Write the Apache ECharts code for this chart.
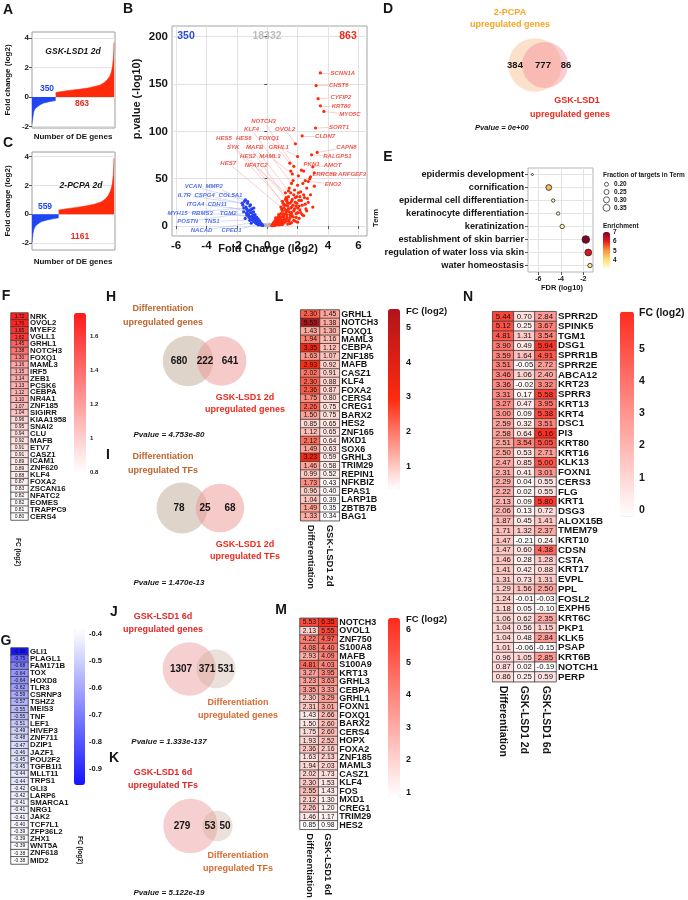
<!DOCTYPE html>
<html><head><meta charset="utf-8">
<script src="https://cdn.jsdelivr.net/npm/echarts@6/dist/echarts.min.js"></script>
<style>html,body{margin:0;padding:0;background:#fff}#c{width:688px;height:900px}</style>
</head><body><div id="c"></div>
<script>
const FONT = '"Liberation Sans", Arial, Helvetica, sans-serif';

// ================= DATA =================
// A / C : ranked fold changes of DE genes (rank, log2 FC)
const aDown = [[0,-1.8],[5,-1.6],[12,-1.4],[25,-1.0],[45,-0.8],[75,-0.68],[120,-0.52],[172,-0.41],[270,-0.3],[350,-0.24]];
const aUp = [[350,0.3],[420,0.36],[550,0.45],[700,0.52],[850,0.63],[1000,0.8],[1060,0.95],[1110,1.15],[1150,1.4],[1175,1.7],[1192,2.1],[1203,2.6],[1210,3.1],[1213,3.7]];
const cDown = [[0,-2.0],[8,-1.7],[20,-1.35],[40,-1.05],[70,-0.85],[120,-0.68],[200,-0.52],[300,-0.42],[430,-0.33],[559,-0.26]];
const cUp = [[559,0.28],[700,0.36],[900,0.45],[1100,0.55],[1300,0.68],[1450,0.85],[1540,1.05],[1600,1.3],[1650,1.65],[1685,2.1],[1705,2.7],[1715,3.3],[1720,3.9]];
const aCounts = [350, 863];
const cCounts = [559, 1161];
const waterfallTicks = [-2, 0, 2, 4];

// B : volcano (log2 FC, -log10 p)
const volcanoCounts = [350, 18332, 863];
const volcanoUp = [[0.3,0.5],[0.35,1.5],[0.4,3],[0.45,0.8],[0.5,2.2],[0.5,5],[0.55,3.5],[0.6,1.2],[0.6,7],[0.65,4.5],[0.7,2.5],[0.7,9],[0.75,6],[0.8,3.8],[0.8,11],[0.85,8],[0.9,1.5],[0.9,13],[0.95,5.5],[1.0,10],[1.0,16],[1.05,3],[1.1,7.5],[1.1,19],[1.15,12.5],[1.2,4.8],[1.2,22],[1.25,15],[1.3,9],[1.3,26],[1.35,2],[1.4,18],[1.4,31],[1.45,6.5],[1.5,12],[1.5,24],[1.55,35],[1.6,3.5],[1.6,20],[1.65,28],[1.7,9.5],[1.75,16],[1.8,38],[1.85,5],[1.85,25],[1.9,13],[1.95,31],[2.0,19],[2.0,43],[2.1,8],[2.1,27],[2.2,14],[2.2,36],[2.3,22],[2.35,45],[2.4,11],[2.45,30],[2.55,18],[2.6,40],[2.7,25],[2.8,50],[2.85,33],[3.0,20],[3.1,42],[1.2,28],[1.45,40],[1.7,48],[1.55,58],[2.05,53],[2.25,59],[2.5,48],[1.75,33],[0.95,18],[1.05,24],[0.55,8.5],[0.75,12],[0.65,2],[1.35,21],[1.6,14],[1.9,21],[2.15,31],[1.3,16],
  [0.4,1.8],[0.45,4],[0.55,6],[0.6,3],[0.7,5],[0.75,1],[0.8,7.5],[0.85,2.5],[0.9,9.5],[0.95,3.5],[1.0,6],[1.05,13],[1.1,10],[1.15,4],[1.2,17],[1.25,7],[1.3,12],[1.35,24],[1.4,5],[1.45,15],[1.5,9],[1.55,19],[1.6,26],[1.65,11],[1.7,22],[1.75,6],[1.8,18],[1.85,30],[1.9,9],[1.95,24],[2.0,14],[2.05,35],[2.1,21],[2.15,17],[2.25,27],[2.3,12],[2.4,33],[2.5,23],[2.6,16],[2.65,29],[0.35,0.3],[0.5,0.5],[1.0,1.5],[1.5,2.5],[2.0,4]];
const volcanoDown = [[-0.3,0.5],[-0.35,2],[-0.4,1],[-0.45,3.5],[-0.5,1.8],[-0.5,5.5],[-0.55,3],[-0.6,7.5],[-0.6,1.2],[-0.65,4.5],[-0.7,9.5],[-0.7,2.5],[-0.75,6.5],[-0.8,12],[-0.8,3.8],[-0.85,8.5],[-0.9,15],[-0.9,5],[-0.95,11],[-1.0,18],[-1.0,7],[-1.05,3],[-1.1,14],[-1.15,21],[-1.2,9],[-1.25,16],[-1.3,24],[-1.35,11.5],[-1.4,20],[-1.5,26],[-1.55,15],[-1.6,22],[-1.45,8],
  [-0.35,0.8],[-0.45,2.5],[-0.55,4.5],[-0.65,6],[-0.75,3.2],[-0.85,5.5],[-0.95,8],[-1.05,10],[-1.15,6],[-1.25,12.5],[-1.35,18],[-1.1,17],[-0.9,11],[-0.7,7.5],[-0.6,3.5]];
const volcanoNS = [[-0.25,0.3],[-0.15,0.8],[-0.1,0.2],[0,0.5],[0.05,0.1],[0.1,0.9],[0.2,0.3],[0.25,1.2],[-0.2,1.5],[0.15,2],[-0.05,1.2],[0.1,0.2]];
const volcanoUpLabeled = [['SCNN1A',3.5,161.7],['CHST6',3.22,148.3],['CYFIP2',3.35,134.5],['KRT80',3.5,127],['MYO5C',3.73,121],['SORT1',3.18,103.5],['CLDN7',2.3,95.3],['CAPN8',3.29,77.7],['RALGPS1',2.92,75.2],['AMOT',3.0,62.5],['PKN1',2.4,58],['LRRC8B',2.85,52],['ARFGEF3',3.1,56],['ENO2',2.7,47],['NOTCH3',1.75,63],['KLF4',1.6,45],['OVOL2',1.86,86.9],['HES5',1.2,35],['HES6',1.3,28],['FOXQ1',1.49,66.4],['SYK',1.0,26],['MAFB',1.4,37],['GRHL1',2.0,73.4],['HES2',1.1,22],['MAML3',1.65,55],['HES7',0.9,20],['NFATC2',1.25,30]];
const volcanoDownLabeled = [['VCAN',-1.43,27.5],['MMP2',-1.28,25.8],['IL7R',-1.65,24],['CSPG4',-1.1,22.4],['COL5A1',-0.88,19],['ITGA4',-1.32,17.2],['CDH11',-0.99,13.8],['MYH15',-1.54,19],['RBMS3',-1.21,10.4],['TGM2',-0.77,8.7],['POSTN',-1.36,13.8],['TNS1',-1.1,6.4],['NACAD',-0.66,4.2],['CPED1',-0.55,1.4]];
const volcanoXTicks = [-6,-4,-2,0,2,4,6];
const volcanoYTicks = [0,50,100,150,200];

// D : venn 2-PCPA vs GSK-LSD1
const vennD = [384, 777, 86];
const pvalD = '0e+00';

// E : GO terms
const goTerms = ['epidermis development','cornification','epidermal cell differentiation','keratinocyte differentiation','keratinization','establishment of skin barrier','regulation of water loss via skin','water homeostasis'];
const goFDR = [-6.53,-5.07,-4.68,-4.24,-3.88,-1.78,-1.56,-1.41];
const goFraction = [0.10,0.29,0.17,0.17,0.22,0.38,0.34,0.22];
const goEnrichment = [2.9,4.5,3.3,3.2,3.5,7.0,6.2,3.8];
const goXTicks = [-6,-4,-2];
const goSizeBreaks = [0.20,0.25,0.30,0.35];
const goEnrichTicks = [4,5,6,7];

// F : upregulated TFs
const fGenes = ['NRK','OVOL2','MYEF2','VGLL1','GRHL1','NOTCH3','FOXQ1','MAML3','IRF5','ZEB1','PCSK6','CEBPA','NR4A1','ZNF185','SIGIRR','KIAA1958','SNAI2','CLU','MAFB','ETV7','CASZ1','ICAM1','ZNF620','KLF4','FOXA2','ZSCAN16','NFATC2','EOMES','TRAPPC9','CERS4'];
const fFC = [1.72,1.70,1.65,1.62,1.45,1.38,1.30,1.16,1.15,1.14,1.13,1.12,1.10,1.07,1.04,0.96,0.95,0.94,0.92,0.91,0.91,0.89,0.89,0.88,0.87,0.83,0.82,0.82,0.81,0.80];
const fTicks = [0.8,1,1.2,1.4,1.6];

// G : downregulated TFs
const gGenes = ['GLI1','PLAGL1','FAM171B','TOX','HOXD8','TLR3','CSRNP3','TSHZ2','MEIS3','TNF','LEF1','HIVEP3','ZNF711','DZIP1','JAZF1','POU2F2','TGFB1I1','MLLT11','TRPS1','GLI3','LARP6','SMARCA1','NRG1','JAK2','TCF7L1','ZFP36L2','ZHX1','WNT5A','ZNF618','MID2'];
const gFC = [-0.96,-0.75,-0.68,-0.64,-0.64,-0.62,-0.59,-0.57,-0.55,-0.55,-0.51,-0.49,-0.48,-0.47,-0.46,-0.45,-0.45,-0.44,-0.44,-0.42,-0.42,-0.41,-0.41,-0.41,-0.40,-0.39,-0.39,-0.39,-0.38,-0.38];
const gTicks = [-0.9,-0.8,-0.7,-0.6,-0.5,-0.4];

// H - K : venns
const vennH = [680, 222, 641]; const pvalH = '4.753e-80';
const vennI = [78, 25, 68];    const pvalI = '1.470e-13';
const vennJ = [1307, 371, 531]; const pvalJ = '1.333e-137';
const vennK = [279, 53, 50];   const pvalK = '5.122e-19';

// L
const lGenes = ['GRHL1','NOTCH3','FOXQ1','MAML3','CEBPA','ZNF185','MAFB','CASZ1','KLF4','FOXA2','CERS4','CREG1','BARX2','HES2','ZNF165','MXD1','SOX6','GRHL3','TRIM29','REPIN1','NFKBIZ','EPAS1','LARP1B','ZBTB7B','BAG1'];
const lDiff = [2.30,5.53,1.43,1.94,3.35,1.63,2.93,2.02,2.30,2.36,1.75,2.26,1.50,0.85,1.12,2.12,1.49,3.23,1.46,0.99,1.73,0.96,1.04,1.49,1.33];
const lGsk2d = [1.45,1.38,1.30,1.16,1.12,1.07,0.92,0.91,0.88,0.87,0.80,0.75,0.75,0.65,0.65,0.64,0.63,0.59,0.58,0.52,0.43,0.40,0.39,0.35,0.34];
const lTicks = [1,2,3,4,5];

// M
const mGenes = ['NOTCH3','OVOL1','ZNF750','S100A8','MAFB','S100A9','KRT13','GRHL3','CEBPA','GRHL1','FOXN1','FOXQ1','BARX2','CERS4','HOPX','FOXA2','ZNF185','MAML3','CASZ1','KLF4','FOS','MXD1','CREG1','TRIM29','HES2'];
const mDiff = [5.53,2.13,4.22,4.08,2.93,4.81,3.27,3.23,3.35,2.30,2.31,1.43,1.50,1.75,1.93,2.36,1.63,1.94,2.02,2.30,2.55,2.12,2.26,1.46,0.85];
const mGsk6d = [6.35,5.55,4.97,4.40,4.09,4.03,3.95,3.63,3.33,3.29,3.01,2.66,2.60,2.60,2.52,2.16,2.13,2.03,1.73,1.53,1.43,1.30,1.20,1.17,0.98];
const mTicks = [1,2,3,4,5,6];

// N
const nGenes = ['SPRR2D','SPINK5','TGM1','DSG1','SPRR1B','SPRR2E','ABCA12','KRT23','SPRR3','KRT13','KRT4','DSC1','PI3','KRT80','KRT16','KLK13','FOXN1','CERS3','FLG','KRT1','DSG3','ALOX15B','TMEM79','KRT10','CDSN','CSTA','KRT17','EVPL','PPL','FOSL2','EXPH5','KRT6C','PKP1','KLK5','PSAP','KRT6B','NOTCH1','PERP'];
const nDiff = [5.44,5.12,4.81,3.90,3.59,3.51,3.46,3.36,3.31,3.27,3.00,2.59,2.58,2.51,2.50,2.47,2.31,2.29,2.22,2.13,2.06,1.87,1.71,1.47,1.47,1.46,1.41,1.31,1.29,1.24,1.18,1.06,1.04,1.04,1.01,0.96,0.87,0.86];
const nGsk2d = [0.70,0.25,1.31,0.49,1.64,-0.05,1.06,-0.02,0.17,0.47,0.09,0.32,0.64,3.54,0.53,0.85,0.41,0.04,0.02,0.09,0.13,0.45,1.32,-0.21,0.60,0.28,0.42,0.73,1.56,-0.01,0.05,0.62,0.56,0.48,-0.06,1.05,0.02,0.25];
const nGsk6d = [2.84,3.67,3.54,5.94,4.91,2.72,2.40,3.32,5.58,3.95,5.38,3.51,6.16,5.05,2.71,5.00,3.01,0.55,0.55,5.80,0.72,1.41,2.37,0.24,4.38,1.28,0.88,1.31,2.50,-0.03,-0.10,2.35,1.15,2.84,-0.15,2.85,-0.19,0.59];
const nTicks = [0,1,2,3,4,5];

// ================= LAYOUT (positions / styles only) =================
const volcanoLabelPos = {SCNN1A:[4.98,161.7],CHST6:[4.71,148.3],CYFIP2:[4.85,135.9],KRT80:[4.87,126.4],MYO5C:[5.44,117.7],SORT1:[4.73,104.5],CLDN7:[3.81,94.7],CAPN8:[5.22,83.1],RALGPS1:[4.62,73.5],AMOT:[4.3,64],PKN1:[2.92,64.7],LRRC8B:[3.79,54.7],ARFGEF3:[5.59,54.7],ENO2:[4.32,44.5],NOTCH3:[-0.24,110.5],KLF4:[-1.03,101.7],OVOL2:[1.18,101.7],HES5:[-2.85,92.2],HES6:[-1.54,92.2],FOXQ1:[0.11,92.2],SYK:[-2.24,83.1],MAFB:[-0.82,83.1],GRHL1:[0.76,83.1],HES2:[-1.27,73.5],MAML3:[0.17,73.5],HES7:[-2.57,66.5],NFATC2:[-0.73,64],
  VCAN:[-4.87,41.7],MMP2:[-3.49,41.7],IL7R:[-5.46,32.2],CSPG4:[-4.12,32.2],COL5A1:[-2.41,32.2],ITGA4:[-4.72,23],CDH11:[-3.29,23],MYH15:[-5.9,13.5],RBMS3:[-4.28,13.5],TGM2:[-2.57,13.5],POSTN:[-5.24,4.7],TNS1:[-3.64,4.7],NACAD:[-4.32,-4.8],CPED1:[-2.35,-4.8]};
const RED = '#ee2a1e', BLUE = '#2046f0', TXT = '#151515';

const chart = echarts.init(document.getElementById('c'), null, {renderer:'canvas', width:688, height:900});
const opt = {animation:false, backgroundColor:'#ffffff', textStyle:{fontFamily:FONT}, grid:[], xAxis:[], yAxis:[], series:[], visualMap:[], graphic:{elements:[]}};
const GE = opt.graphic.elements;

function txt(x, y, text, o) {
  o = o || {};
  const al = o.align || 'center', va = o.valign || 'middle';
  GE.push({type:'text', x:x, y:y, rotation:o.rot || 0, z:100, silent:true,
    style:{text:text, fill:o.color || TXT, font:(o.italic ? 'italic ' : '') + (o.weight || 'bold') + ' ' + (o.size || 10) + 'px ' + FONT,
      textAlign:al, textVerticalAlign:va, align:al, verticalAlign:va}});
}
function circ(cx, cy, r, fill, stroke) {
  GE.push({type:'circle', z:10, silent:true, shape:{cx:cx, cy:cy, r:r}, style:{fill:fill, stroke:stroke || null, lineWidth:stroke ? 0.8 : 0}});
}
function addGrid(rect, xa, ya) {
  const gi = opt.grid.length;
  opt.grid.push(Object.assign({containLabel:false, outerBoundsMode:'none', show:false}, rect));
  xa.gridIndex = gi; ya.gridIndex = gi;
  opt.xAxis.push(xa); opt.yAxis.push(ya);
  return {xi:opt.xAxis.length - 1, yi:opt.yAxis.length - 1};
}
function valAxis(min, max, ticks, fs, o) {
  o = o || {};
  return {type:'value', min:min, max:max, position:o.pos, axisLine:{show:false},
    axisTick:{show:true, length:3, customValues:ticks, lineStyle:{color:'#555', width:1}},
    axisLabel:{customValues:ticks, fontSize:fs, fontWeight:'bold', color:TXT, margin:o.margin || 4, fontFamily:FONT},
    splitLine:{show:true, lineStyle:{color:'#e2e2e2', width:1}}};
}
function hiddenAxis(min, max) { return {type:'value', min:min, max:max, show:false}; }

// ---------- A & C waterfalls ----------
function waterfall(rect, yMin, yMax, xMax, down, up) {
  const ax = addGrid(Object.assign({show:true, borderColor:'#9c9c9c', borderWidth:1}, rect),
    hiddenAxis(0, xMax), valAxis(yMin, yMax, waterfallTicks, 8, {margin:3}));
  [[down, '#1f45f5'], [up, '#ff2a0a']].forEach(function (p) {
    opt.series.push({type:'line', xAxisIndex:ax.xi, yAxisIndex:ax.yi, data:p[0], symbol:'none', silent:true,
      lineStyle:{width:0.6, color:p[1]}, areaStyle:{color:p[1], opacity:1}, z:3});
  });
}
waterfall({left:32, top:32, width:83, height:96}, -2.1, 4.41, 1228, aDown, aUp);
waterfall({left:32, top:152, width:83, height:98}, -2.5, 4.33, 1741, cDown, cUp);
txt(8, 10, 'A', {size:14}); txt(8, 143, 'C', {size:14});
txt(73, 52, 'GSK-LSD1 2d', {size:8.5, italic:true});
txt(47, 89, String(aCounts[0]), {size:8.5, color:BLUE});
txt(82, 104, String(aCounts[1]), {size:8.5, color:RED});
txt(81, 186, '2-PCPA 2d', {size:8.5, italic:true});
txt(45, 207, String(cCounts[0]), {size:8.5, color:BLUE});
txt(80, 237, String(cCounts[1]), {size:8.5, color:RED});
txt(73, 137, 'Number of DE genes', {size:8});
txt(73, 262, 'Number of DE genes', {size:8});
txt(8, 80, 'Fold change (log2)', {size:8, rot:Math.PI/2});
txt(8, 201, 'Fold change (log2)', {size:8, rot:Math.PI/2});

// ---------- B volcano ----------
const vb = {x0:-6.27, x1:6.57, y0:-10.6, y1:211.3, left:172, top:26, width:195, height:210};
const axB = addGrid({left:vb.left, top:vb.top, width:vb.width, height:vb.height, show:true, borderColor:'#a4a4a4', borderWidth:1},
  valAxis(vb.x0, vb.x1, volcanoXTicks, 11.5), valAxis(vb.y0, vb.y1, volcanoYTicks, 11.5));
const kx = vb.width / (vb.x1 - vb.x0), ky = vb.height / (vb.y1 - vb.y0);
function segs(list) {
  const out = [];
  list.forEach(function (g) {
    const a = volcanoLabelPos[g[0]]; if (!a) return;
    const dx = (g[1] - a[0]) * kx, dy = (g[2] - a[1]) * ky;
    const hw = g[0].length * 1.95 + 1, hh = 3.6;
    const t = Math.min(Math.abs(dx) > 0 ? hw / Math.abs(dx) : 99, Math.abs(dy) > 0 ? hh / Math.abs(dy) : 99);
    if (t >= 1) return;
    out.push({coords:[[a[0] + (g[1] - a[0]) * t, a[1] + (g[2] - a[1]) * t], [g[1], g[2]]]});
  });
  return out;
}
function pts(list) { return list.map(function (g) { return [g[1], g[2]]; }); }
opt.series.push({type:'lines', coordinateSystem:'cartesian2d', xAxisIndex:axB.xi, yAxisIndex:axB.yi, silent:true, z:2,
  data:segs(volcanoUpLabeled), lineStyle:{color:'#f3b0ad', width:0.6, opacity:1}});
opt.series.push({type:'lines', coordinateSystem:'cartesian2d', xAxisIndex:axB.xi, yAxisIndex:axB.yi, silent:true, z:2,
  data:segs(volcanoDownLabeled), lineStyle:{color:'#b7c3f2', width:0.6, opacity:1}});
[[volcanoNS, '#b8b8b8'], [volcanoDown, '#2440f0'], [volcanoUp, '#ff2a0a'], [pts(volcanoDownLabeled), '#2440f0'], [pts(volcanoUpLabeled), '#ff2a0a']].forEach(function (s) {
  opt.series.push({type:'scatter', xAxisIndex:axB.xi, yAxisIndex:axB.yi, data:s[0], symbolSize:3.2, silent:true, z:4,
    itemStyle:{color:s[1], opacity:1}});
});
[[volcanoUpLabeled, '#ee2a1e'], [volcanoDownLabeled, '#2a4be0']].forEach(function (s) {
  opt.series.push({type:'scatter', xAxisIndex:axB.xi, yAxisIndex:axB.yi, silent:true, z:6,
    data:s[0].map(function (g) { return {name:g[0], value:volcanoLabelPos[g[0]]}; }),
    symbolSize:0.1, itemStyle:{color:'rgba(0,0,0,0)'},
    label:{show:true, position:'inside', formatter:'{b}', fontSize:6, fontWeight:'bold', fontStyle:'italic', color:s[1], fontFamily:FONT}});
});
txt(128, 9, 'B', {size:14});
txt(186, 36, String(volcanoCounts[0]), {size:10.5, color:'#2a4be0'});
txt(267, 36, String(volcanoCounts[1]), {size:10.5, color:'#bdbdbd'});
txt(348, 36, String(volcanoCounts[2]), {size:10.5, color:RED});
txt(137, 99, 'p.value (-log10)', {size:11, rot:Math.PI/2});
txt(268, 249, 'Fold Change (log2)', {size:11});

// ---------- Venn helper ----------
function venn(o) {
  const tL = o.v[0] + o.v[1], tR = o.v[1] + o.v[2], tMax = Math.max(tL, tR);
  const rL = o.rBig * Math.sqrt(tL / tMax), rR = o.rBig * Math.sqrt(tR / tMax);
  circ(o.cL[0], o.cL[1], rL, o.fillL);
  circ(o.cR[0], o.cR[1], rR, o.fillR);
  for (let i = 0; i < 3; i++) txt(o.nx[i], o.cL[1], String(o.v[i]), {size:o.nSize || 10});
}

// ---------- D ----------
txt(388, 9, 'D', {size:14});
txt(510, 13, '2-PCPA', {size:9, color:'#f5a623'});
txt(510, 25, 'upregulated genes', {size:9, color:'#f5a623'});
venn({v:vennD, rBig:26.7, cL:[535,65], cR:[545,65], fillL:'rgba(250,196,150,0.5)', fillR:'rgba(244,140,150,0.45)', nx:[515,543,566], nSize:9.5});
txt(577, 101, 'GSK-LSD1', {size:9, color:RED});
txt(570, 115, 'upregulated genes', {size:9, color:RED});
txt(475, 128, 'Pvalue = ' + pvalD, {size:7.5, italic:true, align:'left'});

// ---------- E ----------
txt(388, 157, 'E', {size:14});
const axE = addGrid({left:528, top:168, width:65, height:104, show:true, borderColor:'#b4b4b4', borderWidth:1},
  valAxis(-6.92, -1.14, goXTicks, 7),
  {type:'category', data:goTerms, inverse:true, axisLine:{show:false},
   axisTick:{show:true, length:3, alignWithLabel:true, lineStyle:{color:'#555'}},
   axisLabel:{interval:0, fontSize:9.2, fontWeight:'bold', color:TXT, margin:4, fontFamily:FONT},
   splitLine:{show:true, alignWithLabel:true, lineStyle:{color:'#e4e4e4'}}});
const eSeries = opt.series.length;
opt.series.push({type:'scatter', xAxisIndex:axE.xi, yAxisIndex:axE.yi, silent:true, z:5,
  data:goTerms.map(function (t, i) { return [goFDR[i], t, goFraction[i], goEnrichment[i]]; }),
  symbolSize:function (v) { return v[2] * 20; }, itemStyle:{borderColor:'#222', borderWidth:0.8, opacity:1}});
const enrichColors = ['#ffffcc', '#fed976', '#fd8d3c', '#e31a1c', '#800026'];
opt.visualMap.push({type:'continuous', seriesIndex:eSeries, dimension:3, min:3.1, max:7.07, inRange:{color:enrichColors},
  left:603, top:232, itemWidth:7, itemHeight:36, padding:0, calculable:false, hoverLink:false, text:null});
addGrid({left:603, top:232, width:7, height:36}, hiddenAxis(0, 1),
  {type:'value', min:3.1, max:7.07, position:'right', axisLine:{show:false}, axisTick:{show:false}, splitLine:{show:false},
   axisLabel:{customValues:goEnrichTicks, fontSize:6.5, fontWeight:'bold', color:TXT, margin:3, fontFamily:FONT}});
txt(562, 288, 'FDR (log10)', {size:7.5});
txt(376, 218, 'Term', {size:7.5, rot:Math.PI/2});
txt(603, 175, 'Fraction of targets in Term', {size:6.5, align:'left'});
goSizeBreaks.forEach(function (b, i) {
  const y = [184.3, 192, 199.8, 207.8][i];
  circ(606.5, y, b * 10, '#ffffff', '#333');
  txt(614, y, b.toFixed(2), {size:6.5, align:'left'});
});
txt(603, 226, 'Enrichment', {size:6.5, align:'left'});

// ---------- heatmap helper ----------
function heat(rect, cols, genes, vals, vm, o) {
  const ax = addGrid(rect,
    {type:'category', data:cols, position:'bottom', axisLine:{show:false}, axisTick:{show:false}, splitLine:{show:false},
     axisLabel:{show:cols[0] !== '', interval:0, rotate:-90, fontSize:o.colFont || 9, fontWeight:'bold', color:TXT, margin:4, fontFamily:FONT}},
    {type:'category', data:genes, inverse:true, position:'right', axisLine:{show:false}, axisTick:{show:false}, splitLine:{show:false},
     axisLabel:{interval:0, fontSize:o.geneFont, fontWeight:'bold', color:TXT, margin:2, fontFamily:FONT}});
  const data = [];
  vals.forEach(function (col, ci) { col.forEach(function (v, ri) { data.push([ci, ri, v]); }); });
  const si = opt.series.length;
  opt.series.push({type:'heatmap', xAxisIndex:ax.xi, yAxisIndex:ax.yi, data:data, silent:true,
    itemStyle:{borderColor:'#3a3a3a', borderWidth:0.8},
    label:{show:true, formatter:function (p) { return p.value[2].toFixed(2); }, fontSize:o.cellFont, color:'#111', fontFamily:FONT}});
  opt.visualMap.push({type:'continuous', seriesIndex:si, dimension:2, min:vm.min, max:vm.max, inRange:{color:vm.colors},
    left:vm.left, top:vm.top, itemWidth:vm.w, itemHeight:vm.h, padding:0, calculable:false, hoverLink:false, text:null});
  addGrid({left:vm.left, top:vm.top, width:vm.w, height:vm.h}, hiddenAxis(0, 1),
    {type:'value', min:vm.min, max:vm.max, position:'right', axisLine:{show:false}, axisTick:{show:false}, splitLine:{show:false},
     axisLabel:{customValues:vm.ticks, fontSize:vm.tickFont, fontWeight:'bold', color:TXT, margin:vm.margin || 4, fontFamily:FONT}});
}

// ---------- F ----------
txt(6, 296, 'F', {size:14});
heat({left:11, top:313, width:17, height:207}, [''], fGenes, [fFC],
  {min:0.8, max:1.74, colors:['#ffffff', '#ff1a1a'], left:74, top:313, w:12, h:159, ticks:fTicks, tickFont:6, margin:4},
  {geneFont:7.8, cellFont:5});
txt(18, 552, 'FC (log2)', {size:6.5, rot:-Math.PI/2});

// ---------- G ----------
txt(6, 641, 'G', {size:14});
heat({left:11, top:648, width:17, height:216}, [''], gGenes, [gFC],
  {min:-0.96, max:-0.38, colors:['#1414ff', '#ffffff'], left:74, top:629, w:11, h:156, ticks:gTicks, tickFont:7.5, margin:4},
  {geneFont:7.8, cellFont:5});
txt(80, 850, 'FC (log2)', {size:6.5, rot:-Math.PI/2});

// ---------- H ----------
txt(111, 297, 'H', {size:14});
txt(163, 309, 'Differentiation', {size:9, color:'#c0642e'});
txt(163, 323, 'upregulated genes', {size:9, color:'#c0642e'});
venn({v:vennH, rBig:25.3, cL:[188,361], cR:[221.7,361], fillL:'rgba(190,170,150,0.5)', fillR:'rgba(240,150,150,0.5)', nx:[179,205,230]});
txt(245, 398, 'GSK-LSD1 2d', {size:9, color:RED});
txt(245, 410, 'upregulated genes', {size:9, color:RED});
txt(169, 435, 'Pvalue = ' + pvalH, {size:8, italic:true});

// ---------- I ----------
txt(108, 455, 'I', {size:14});
txt(163, 457, 'Differentiation', {size:9, color:'#c0642e'});
txt(163, 471, 'upregulated TFs', {size:9, color:'#c0642e'});
venn({v:vennI, rBig:25.5, cL:[182,508], cR:[220,508], fillL:'rgba(190,170,150,0.5)', fillR:'rgba(240,150,150,0.5)', nx:[179,205,230]});
txt(245, 545, 'GSK-LSD1 2d', {size:9, color:RED});
txt(245, 557, 'upregulated TFs', {size:9, color:RED});
txt(169, 583, 'Pvalue = ' + pvalI, {size:8, italic:true});

// ---------- J ----------
txt(114, 612, 'J', {size:14});
txt(163, 617, 'GSK-LSD1 6d', {size:9, color:'#e0282a'});
txt(163, 630, 'upregulated genes', {size:9, color:'#e0282a'});
venn({v:vennJ, rBig:26.7, cL:[189.3,669], cR:[216,669], fillL:'rgba(236,150,150,0.45)', fillR:'rgba(200,170,150,0.35)', nx:[181,207,226]});
txt(238, 703, 'Differentiation', {size:9, color:'#d86a30'});
txt(238, 716, 'upregulated genes', {size:9, color:'#d86a30'});
txt(169, 742, 'Pvalue = ' + pvalJ, {size:8, italic:true});

// ---------- K ----------
txt(114, 758, 'K', {size:14});
txt(163, 773, 'GSK-LSD1 6d', {size:9, color:'#e0282a'});
txt(163, 786, 'upregulated TFs', {size:9, color:'#e0282a'});
venn({v:vennK, rBig:27.2, cL:[190.5,826], cR:[217.5,826], fillL:'rgba(236,150,150,0.45)', fillR:'rgba(200,170,150,0.35)', nx:[182,210,225]});
txt(238, 856, 'Differentiation', {size:9, color:'#d86a30'});
txt(238, 869, 'upregulated TFs', {size:9, color:'#d86a30'});
txt(169, 893, 'Pvalue = ' + pvalK, {size:8, italic:true});

// ---------- L ----------
txt(279, 297, 'L', {size:14});
heat({left:300.7, top:310, width:38.6, height:210.7}, ['Differentiation', 'GSK-LSD1 2d'], lGenes, [lDiff, lGsk2d],
  {min:0.34, max:5.53, colors:['#ffffff', '#ff2a10', '#b0141a'], left:388, top:309, w:12, h:180, ticks:lTicks, tickFont:9, margin:6},
  {geneFont:9, cellFont:6.8, colFont:9.5});
txt(406, 311, 'FC (log2)', {size:9.5, align:'left'});

// ---------- M ----------
txt(281, 610, 'M', {size:14});
heat({left:300, top:618.3, width:37.3, height:211}, ['Differentiation', 'GSK-LSD1 6d'], mGenes, [mDiff, mGsk6d],
  {min:0.85, max:6.36, colors:['#ffffff', '#ff2a1a'], left:388, top:618, w:12, h:179, ticks:mTicks, tickFont:9, margin:6},
  {geneFont:9, cellFont:6.8, colFont:9.5});
txt(406, 619, 'FC (log2)', {size:9.5, align:'left'});

// ---------- N ----------
txt(468, 297, 'N', {size:14});
heat({left:492.7, top:311.7, width:63.3, height:370}, ['Differentiation', 'GSK-LSD1 2d', 'GSK-LSD1 6d'], nGenes, [nDiff, nGsk2d, nGsk6d],
  {min:-0.21, max:6.16, colors:['#ffffff', '#ff2b1f'], left:620, top:311.7, w:14, h:205, ticks:nTicks, tickFont:10.5, margin:5},
  {geneFont:9.8, cellFont:7.8, colFont:10.5});
txt(639, 313, 'FC (log2)', {size:10.5, align:'left'});

chart.setOption(opt);
</script></body></html>
